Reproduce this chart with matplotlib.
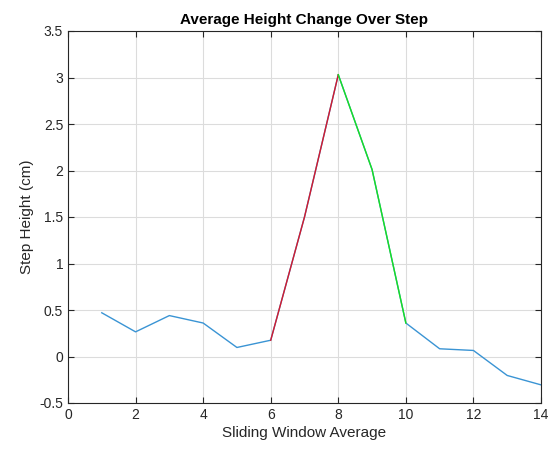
import matplotlib.pyplot as plt

plt.rcParams['font.family'] = ['Liberation Sans', 'DejaVu Sans']

steps = list(range(1, 15))
heights = [0.47, 0.265, 0.44, 0.36, 0.097, 0.175, 1.50, 3.03, 2.01, 0.36, 0.083, 0.065, -0.204, -0.305]
rise = slice(5, 8)   # steps 6..8
fall = slice(7, 10)  # steps 8..10

fig = plt.figure(figsize=(5.55, 4.5), dpi=100)
ax = fig.add_axes([68 / 555, 1 - 403 / 450, (541 - 68) / 555, (403 - 31) / 450])

ax.plot(steps, heights, color='#3a94d4', lw=1.0)
ax.plot(steps[rise], heights[rise], color='#d41a2e', lw=1.0)
ax.plot(steps[fall], heights[fall], color='#18e020', lw=1.0)

ax.set_xlim(0, 14)
ax.set_ylim(-0.5, 3.5)
ax.set_xticks(range(0, 15, 2))
ax.set_yticks([-0.5, 0, 0.5, 1, 1.5, 2, 2.5, 3, 3.5])
ax.set_yticklabels(['-0.5', '0', '0.5', '1', '1.5', '2', '2.5', '3', '3.5'])
ax.grid(True, color='#dcdcdc', lw=0.8)
ax.set_axisbelow(True)
ax.tick_params(direction='in', top=True, right=True, colors='#262626',
               labelsize=10, length=4, width=0.8)
for s in ax.spines.values():
    s.set_color('#262626')
    s.set_linewidth(0.8)

ax.set_xlabel('Sliding Window Average', fontsize=11, color='#262626', labelpad=3)
ax.set_ylabel('Step Height (cm)', fontsize=11, color='#262626', labelpad=4)
ax.set_title('Average Height Change Over Step', fontsize=11, fontweight='bold', pad=5)

fig.savefig('out.png')
